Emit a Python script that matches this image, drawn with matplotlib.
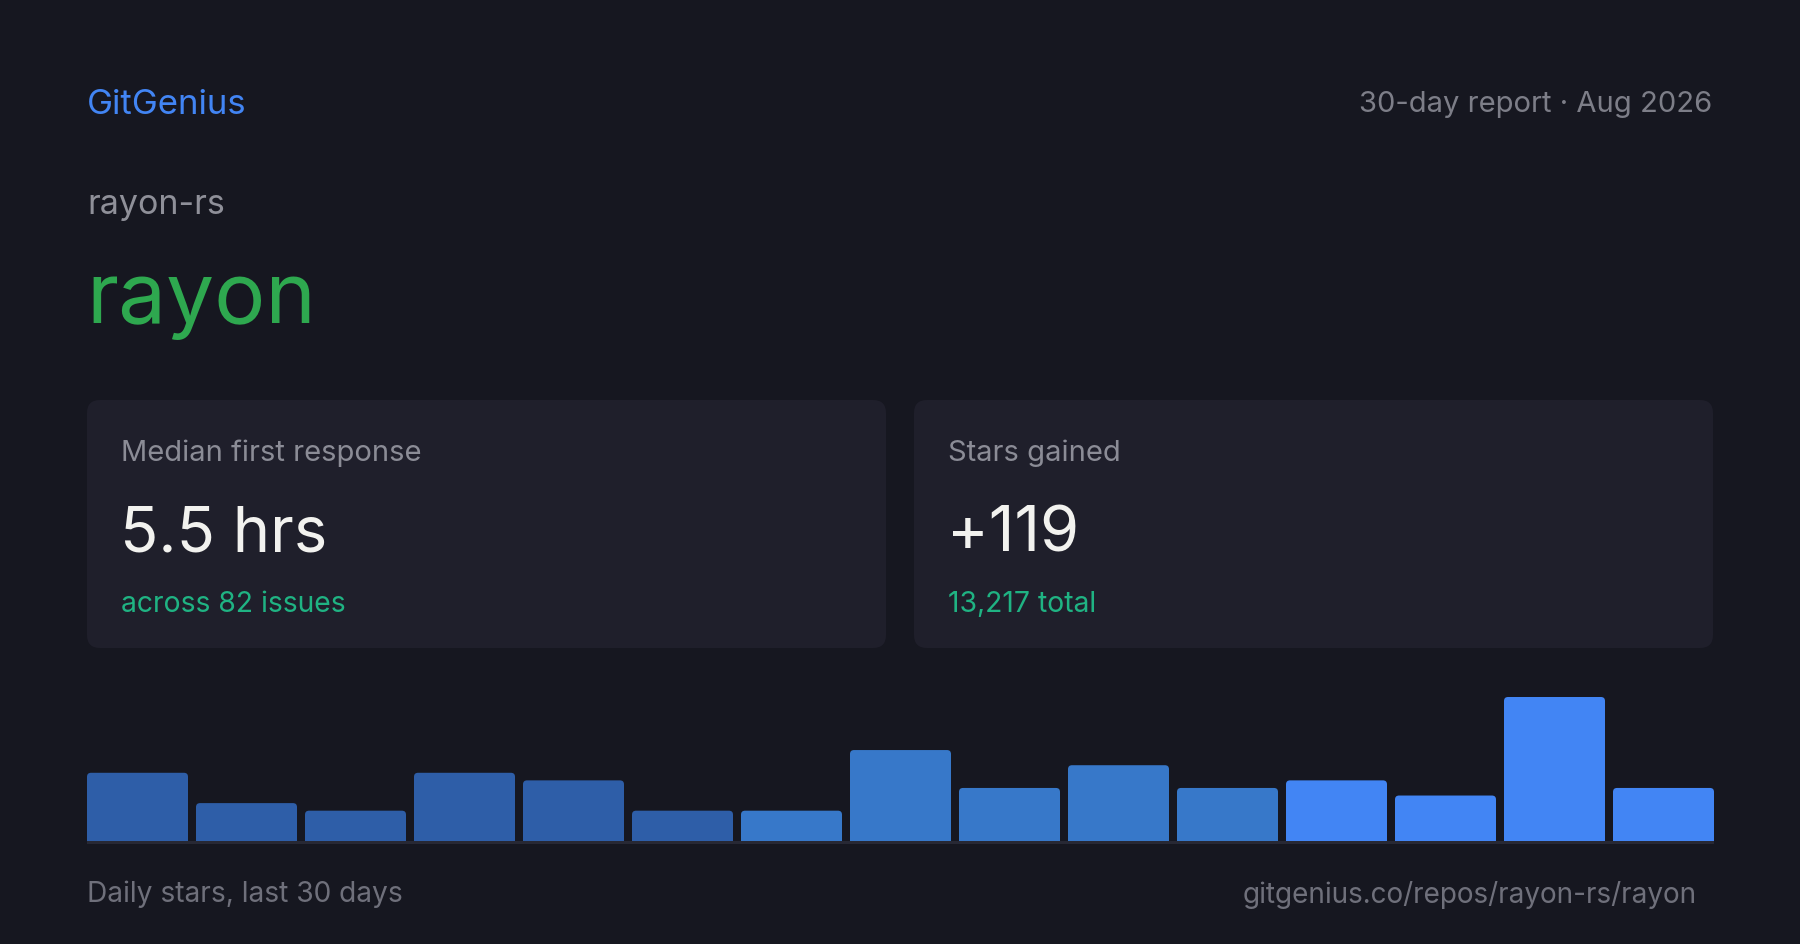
import matplotlib
matplotlib.use("Agg")
import matplotlib.pyplot as plt
from matplotlib.patches import FancyBboxPatch, Rectangle

plt.rcParams['font.family'] = ['Inter', 'DejaVu Sans']

# ---- data ----
brand = "GitGenius"
report_label = "30-day report · Aug 2026"
owner = "rayon-rs"
repo = "rayon"
card_labels = ["Median first response", "Stars gained"]
card_values = ["5.5 hrs", "+119"]
card_subs = ["across 82 issues", "13,217 total"]
daily_stars = [9, 5, 4, 9, 8, 4, 4, 12, 7, 10, 7, 8, 6, 19, 7]
bar_colors = ["#2e5ea8"] * 6 + ["#3778c9"] * 5 + ["#4285f4"] * 4
footer_left = "Daily stars, last 30 days"
footer_right = "gitgenius.co/repos/rayon-rs/rayon"

BG = "#161720"
CARD = "#1f1f2b"
W, H = 1800, 945

fig = plt.figure(figsize=(W / 100, H / 100), dpi=100, facecolor=BG)
ax0 = fig.add_axes([0, 0, 1, 1])
ax0.set_xlim(0, W)
ax0.set_ylim(H, 0)
ax0.axis("off")
ax0.set_facecolor(BG)

# header
ax0.text(87, 114, brand, fontsize=25, color="#4285f4", va="baseline", ha="left")
ax0.text(1712, 112, report_label, fontsize=21, color="#7d7e88", va="baseline", ha="right")
ax0.text(87, 214, owner, fontsize=24.5, color="#8f9099", va="baseline", ha="left")
ax0.text(86, 323, repo, fontsize=61.5, color="#2ea84f", va="baseline", ha="left")

# cards
card_x = [87, 914]
card_w = 799
for i in range(2):
    x0 = card_x[i]
    ax0.add_patch(FancyBboxPatch((x0, 401), card_w, 248,
                                 boxstyle="round,pad=0,rounding_size=13",
                                 facecolor=CARD, edgecolor="none", zorder=1))
    tx = x0 + 34
    ax0.text(tx, 461, card_labels[i], fontsize=21, color="#8b8c96", va="baseline", zorder=2)
    ax0.text(tx - 1, 552, card_values[i], fontsize=45.5, color="#f2f2ef", va="baseline", zorder=2)
    ax0.text(tx, 612, card_subs[i], fontsize=20.4, color="#1fb383", va="baseline", zorder=2)

# baseline under bars
ax0.add_patch(Rectangle((87, 842), 1627, 2.5, facecolor="#272834", edgecolor="none", zorder=1))

# footer
ax0.text(87, 902, footer_left, fontsize=20.3, color="#6f707b", va="baseline", ha="left")
ax0.text(1697, 903, footer_right, fontsize=20.1, color="#6f707b", va="baseline", ha="right")

# bars
bw = 101 / 109
left_px, right_px, base_px, top_px = 87, 1714, 842, 698
axb = fig.add_axes([left_px / W, (H - base_px) / H, (right_px - left_px) / W, (base_px - top_px) / H])
axb.set_xlim(-bw / 2, len(daily_stars) - 1 + bw / 2)
axb.set_ylim(0, max(daily_stars))
axb.axis("off")
axb.patch.set_alpha(0)

bars = axb.bar(range(len(daily_stars)), daily_stars, width=bw, color=bar_colors)
x_per_px = 1 / 109
y_per_px = max(daily_stars) / (base_px - top_px)
aspect = y_per_px / x_per_px
r = 4 * x_per_px
for b, c in zip(bars, bar_colors):
    x, wd, ht = b.get_x(), b.get_width(), b.get_height()
    b.remove()
    axb.add_patch(FancyBboxPatch((x, 0), wd, ht,
                                 boxstyle=f"round,pad=0,rounding_size={r}",
                                 mutation_aspect=aspect,
                                 facecolor=c, edgecolor="none", clip_on=False))
    axb.add_patch(Rectangle((x, 0), wd, ht / 2, facecolor=c, edgecolor="none", clip_on=False))

fig.savefig("out.png", dpi=100, facecolor=BG)
